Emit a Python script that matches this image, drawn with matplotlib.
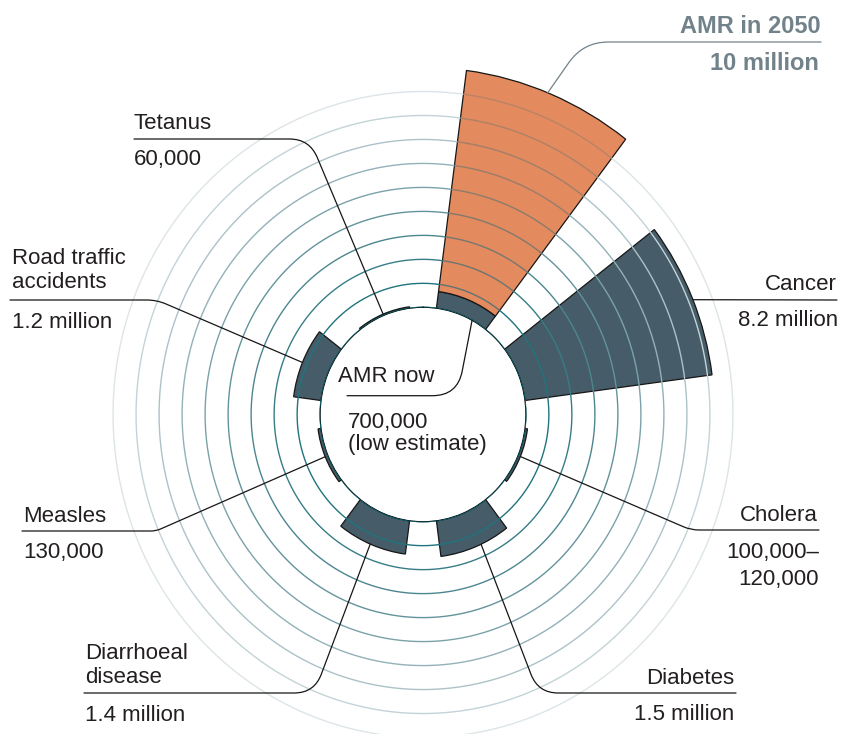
import numpy as np
import matplotlib
matplotlib.use('Agg')
import matplotlib.pyplot as plt
from matplotlib.colors import LinearSegmentedColormap, to_rgb

# ---------------- data ----------------
categories = ['AMR now', 'Cancer', 'Cholera', 'Diabetes',
              'Diarrhoeal\ndisease', 'Measles', 'Road traffic\naccidents', 'Tetanus']
deaths_millions = [0.7, 8.2, 0.11, 1.5, 1.4, 0.13, 1.2, 0.06]
value_labels = ['700,000\n(low estimate)', '8.2 million', '100,000–\n120,000', '1.5 million',
                '1.4 million', '130,000', '1.2 million', '60,000']
amr_2050_label = 'AMR in 2050'
amr_2050_value_label = '10 million'
amr_2050_millions = 10.0
ring_levels = list(range(10))          # one ring per million deaths

# ---------------- style ----------------
W, H = 842, 734
DARK = '#465c68'
ORANGE = '#e38a5f'
EDGE = '#161616'
TXT = '#231f20'
GREY = '#72828b'
FONT = 'Liberation Sans'
FS = 16

fig = plt.figure(figsize=(W / 100, H / 100), dpi=100)

# polar axes, slightly stretched vertically like the reference
hole = 4.47
rmax = 11.0
Rtot = rmax + hole
sx, sy = 23.01, 23.98
cx, cy = 423.0, 414.5
hw, hh = Rtot * sx, Rtot * sy
ax = fig.add_axes([(cx - hw) / W, (H - (cy + hh)) / H, 2 * hw / W, 2 * hh / H],
                  projection='polar')
ax.set_aspect('auto')
ax.set_theta_zero_location('N')
ax.set_theta_direction(-1)
ax.set_ylim(0, rmax)
ax.set_rorigin(-hole)
ax.set_xticks([])
ax.set_yticks([])
ax.grid(False)
for sp in ax.spines.values():
    sp.set_visible(False)
ax.patch.set_visible(False)

n = len(categories)
theta = np.deg2rad(22.5 + 45 * np.arange(n))
width = np.deg2rad(30)

# bars
ax.bar(theta, deaths_millions, width=width, bottom=0, color=DARK,
       edgecolor=EDGE, linewidth=0.9, zorder=2)
ax.bar(theta[0], amr_2050_millions - deaths_millions[0], width=width,
       bottom=deaths_millions[0], color=ORANGE, edgecolor=EDGE,
       linewidth=0.9, zorder=2)

# rings on top
ring_cmap = LinearSegmentedColormap.from_list(
    'rings', [(0.0, '#0b6c76'), (0.35, '#4f8790'), (0.7, '#9ab5bc'), (1.0, '#dde5e8')])
t_lo, t_hi = theta[0] - width / 2, theta[0] + width / 2
t_full = np.linspace(0, 2 * np.pi, 721)
t_rest = np.linspace(t_hi, t_lo + 2 * np.pi, 661)
t_or = np.linspace(t_lo, t_hi, 61)
o_rgb = np.array(to_rgb(ORANGE))
g_rgb = np.array(to_rgb('#3a6e77'))
kmax = max(ring_levels)
for k in ring_levels:
    col = ring_cmap(k / kmax)
    if deaths_millions[0] < k < amr_2050_millions:
        ax.plot(t_rest, np.full_like(t_rest, k), color=col, lw=1.0, zorder=3,
                solid_capstyle='butt')
        # the same ring as it shows through the orange bar
        w = 0.85 - 0.6 * k / kmax
        ax.plot(t_or, np.full_like(t_or, k), color=tuple(w * g_rgb + (1 - w) * o_rgb),
                lw=1.0, zorder=3, solid_capstyle='butt')
    else:
        ax.plot(t_full, np.full_like(t_full, k), color=col, lw=1.0, zorder=3)

# ---------------- labels ----------------
def fx(x):
    return x / W

def fy(y):
    return 1 - y / H

def put(x, y, s, ha, **kw):
    opts = dict(ha=ha, va='baseline', fontsize=FS, color=TXT, family=FONT)
    opts.update(kw)
    fig.text(fx(x), fy(y), s, **opts)

# (name_x, name_baseline, value_x, value_baseline, ha, line_step)
layout = {
    'Cancer': (837, 290, 838, 326, 'right', 24),
    'Cholera': (818, 521, 819, 558, 'right', 27),
    'Diabetes': (734, 684, 734, 720, 'right', 24),
    'Diarrhoeal\ndisease': (85, 659, 85, 721, 'left', 24),
    'Measles': (23, 522, 23, 558, 'left', 24),
    'Road traffic\naccidents': (12, 264, 12, 328, 'left', 24),
    'Tetanus': (134, 129, 134, 165, 'left', 24),
    'AMR now': (338, 382, 348, 428, 'left', 22),
}
for cat, val in zip(categories, value_labels):
    nx, ny, vx, vy, ha, step = layout[cat]
    for i, line in enumerate(cat.split('\n')):
        put(nx, ny + i * step, line, ha)
    for i, line in enumerate(val.split('\n')):
        put(vx, vy + i * step, line, ha)

put(821, 33, amr_2050_label, 'right', color=GREY, fontweight='bold', fontsize=17)
put(819, 70, amr_2050_value_label, 'right', color=GREY, fontweight='bold', fontsize=17)

# ---------------- leader lines ----------------
def leader(th_deg, r, x, y, angleB=None, rad=0, color=EDGE):
    if angleB is None:
        cs = 'arc3,rad=0'
    else:
        cs = f'angle,angleA=0,angleB={angleB},rad={rad}'
    ax.annotate('', xy=(np.deg2rad(th_deg), r), xycoords='data',
                xytext=(x, H - y), textcoords='figure pixels',
                annotation_clip=False,
                arrowprops=dict(arrowstyle='-', connectionstyle=cs,
                                shrinkA=0, shrinkB=0, color=color, lw=0.9))

leader(22, amr_2050_millions, 821, 42, 55, 25, GREY)
leader(67.8, deaths_millions[1], 837, 300)
leader(112.5, deaths_millions[2], 819, 530, -23.3, 8)
leader(155, deaths_millions[3], 736, 693, -69, 20)
leader(203, deaths_millions[4], 84, 693, 69.4, 20)
leader(247.5, deaths_millions[5], 22, 531, 23.7, 5)
leader(292.5, deaths_millions[6], 10, 300, -23.2, 10)
leader(337.5, deaths_millions[7], 134, 139, -67.2, 20)
leader(28.5, 0, 347, 395.7, 79, 25)

fig.savefig('out.png', dpi=100)
